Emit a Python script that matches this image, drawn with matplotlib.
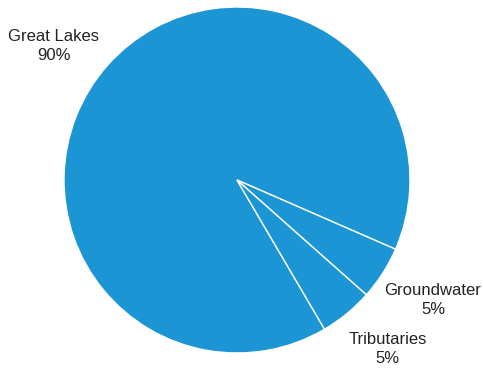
import matplotlib
matplotlib.use("Agg")
import matplotlib.pyplot as plt

categories = ["Great Lakes", "Groundwater", "Tributaries"]
values = [90, 5, 5]
pct_labels = ["90%", "5%", "5%"]

W, H = 483, 369
fig = plt.figure(figsize=(W / 100, H / 100), dpi=100)
ax = fig.add_axes([0, 0, 1, 1])
ax.set_xlim(0, W)
ax.set_ylim(0, H)
ax.axis("off")

cx, cy, r = 237, H - 180, 173
ax.pie(values, center=(cx, cy), radius=r, startangle=-59.6, counterclock=False,
       colors=["#1b95d3"] * 3,
       wedgeprops=dict(edgecolor="white", linewidth=1.0, antialiased=True))
ax.set_xlim(0, W)
ax.set_ylim(0, H)
ax.set_aspect("auto")

# (center x, baseline of name, baseline of percentage) in pixels from top
label_pos = [(54, 40.7, 60.5), (433, 295, 314), (387.5, 344, 363.3)]
font = dict(ha="center", va="baseline", fontsize=12,
            family=["Liberation Sans", "DejaVu Sans"], color="#222222")
for name, pct, (x, y1, y2) in zip(categories, pct_labels, label_pos):
    ax.text(x, H - y1, name, **font)
    ax.text(x, H - y2, pct, **font)

fig.savefig("out.png", dpi=100)
